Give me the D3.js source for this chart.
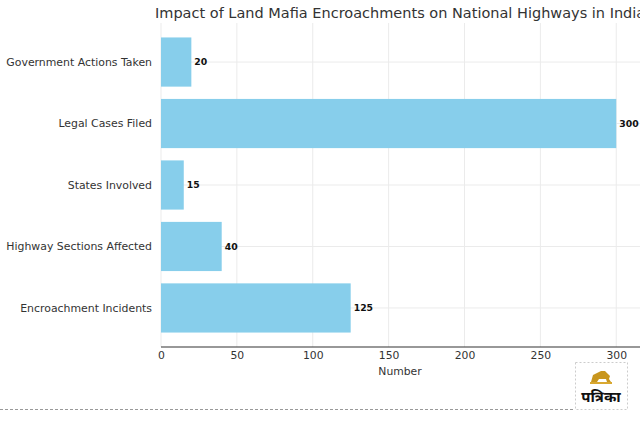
<!DOCTYPE html>
<html><head><meta charset="utf-8">
<script src="https://cdn.jsdelivr.net/npm/d3@7"></script>
<style>body{margin:0;background:#fff;overflow:hidden}svg{display:block;font-family:"DejaVu Sans",sans-serif}</style>
</head><body>
<svg id="c" width="640" height="426"></svg>
<script>
const categories = ["Government Actions Taken","Legal Cases Filed","States Involved","Highway Sections Affected","Encroachment Incidents"];
const values = [20,300,15,40,125];
const xTicks = [0,50,100,150,200,250,300];
const title = "Impact of Land Mafia Encroachments on National Highways in India";
const xLabel = "Number";

const svg = d3.select("#c");
const mLeft = 161, mRight = 639, mTop = 23, mBottom = 347;
const x = d3.scaleLinear().domain([0,315]).range([mLeft,mRight]);
const y = d3.scaleBand().domain(categories).range([mTop,mBottom]).paddingInner(0.2).paddingOuter(0.235);

// grid
svg.append("g").selectAll("line").data(xTicks).join("line")
  .attr("x1",d=>x(d)).attr("x2",d=>x(d)).attr("y1",mTop).attr("y2",mBottom)
  .attr("stroke","#ebebeb").attr("stroke-width",1);
svg.append("g").selectAll("line").data(categories).join("line")
  .attr("x1",mLeft).attr("x2",640).attr("y1",d=>y(d)+y.bandwidth()/2).attr("y2",d=>y(d)+y.bandwidth()/2)
  .attr("stroke","#ebebeb").attr("stroke-width",1);

// bars
svg.append("g").selectAll("rect").data(categories).join("rect")
  .attr("x",x(0)).attr("y",d=>y(d)).attr("height",y.bandwidth())
  .attr("width",(d,i)=>x(values[i])-x(0)).attr("fill","#87CEEB");

// value labels
svg.append("g").selectAll("text").data(categories).join("text")
  .attr("x",(d,i)=>x(values[i])+3).attr("y",d=>y(d)+y.bandwidth()/2)
  .attr("dy","0.35em").attr("font-size",9.3).attr("font-weight","bold").attr("fill","#111")
  .text((d,i)=>values[i]);

// x axis
const xa = svg.append("g").attr("transform",`translate(0,${mBottom})`)
  .call(d3.axisBottom(x).tickValues(xTicks).tickSize(0).tickPadding(4));
xa.select(".domain").attr("stroke","#333").attr("stroke-width",1.2).attr("d",`M${mLeft},0H640`);
xa.selectAll("text").attr("font-size",10.8).attr("fill","#333").attr("font-family","DejaVu Sans");

// y labels
svg.append("g").selectAll("text").data(categories).join("text")
  .attr("x",152).attr("y",d=>y(d)+y.bandwidth()/2).attr("dy","0.35em")
  .attr("text-anchor","end").attr("font-size",10.9).attr("fill","#333").text(d=>d);

svg.append("text").attr("x",400).attr("y",375).attr("text-anchor","middle")
  .attr("font-size",10.8).attr("fill","#333").text(xLabel);

svg.append("text").attr("x",155).attr("y",18).attr("font-size",14.5).attr("fill","#333").text(title);

// footer dashed line
svg.append("line").attr("x1",0).attr("x2",575).attr("y1",409.5).attr("y2",409.5)
  .attr("stroke","#999").attr("stroke-dasharray","3,2").attr("stroke-width",1);

// logo box
svg.append("rect").attr("x",575.5).attr("y",362.5).attr("width",52).attr("height",47)
  .attr("fill","#fff").attr("stroke","#ccc").attr("stroke-dasharray","2,2");
const lg = svg.append("g").attr("transform","translate(601,377)");
lg.append("path").attr("d","M-10,5 L-8,-2 L-4,-4 L0,-6 L4,-6 L7,-3 L9,-1 L8,2 L10,5 L6,5 L5,2 L-2,2 L-4,5 Z").attr("fill","#c8961e");
lg.append("rect").attr("x",-11).attr("y",5).attr("width",22).attr("height",2).attr("fill","#d9a830");
svg.append("text").attr("x",601).attr("y",402).attr("text-anchor","middle").attr("font-size",15).attr("font-weight","bold")
  .attr("fill","#111").attr("font-family","'Noto Sans Devanagari','Noto Sans',sans-serif").text("पत्रिका");
</script>
</body></html>
